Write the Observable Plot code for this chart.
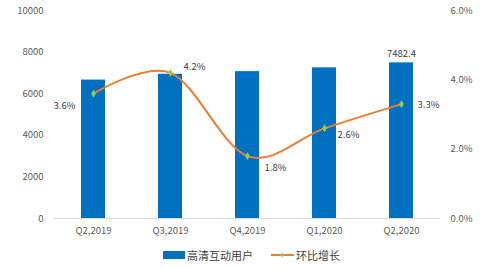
<!DOCTYPE html>
<html>
<head>
<meta charset="utf-8">
<script src="https://cdn.jsdelivr.net/npm/d3@7"></script>
<script src="https://cdn.jsdelivr.net/npm/@observablehq/plot@0.6"></script>
<style>
  html, body { margin: 0; padding: 0; background: #fff; }
  body { width: 499px; height: 268px; overflow: hidden; font-family: "Noto Sans CJK SC", "Noto Sans", sans-serif; }
  #legend { display: flex; align-items: center; height: 26px; padding-left: 163px; font-size: 11px; color: #404040; }
  .sw-bar { display: inline-block; width: 22px; height: 8px; background: #0070C0; margin-right: 2px; }
  .sw-line { display: inline-block; width: 23px; height: 2px; background: #ED7D31; margin-right: 2px; margin-left: 18px; position: relative; }
  .sw-line::after { content: ""; position: absolute; left: 9px; top: -1.5px; width: 4px; height: 4px; background: #92D050; transform: rotate(45deg); opacity: 0.6; }
</style>
</head>
<body>
<div id="chart"></div>
<div id="legend"><span class="sw-bar"></span><span>高清互动用户</span><span class="sw-line"></span><span>环比增长</span></div>
<script>
const quarters = ["Q2,2019", "Q3,2019", "Q4,2019", "Q1,2020", "Q2,2020"];
const users = [6655, 6935, 7060, 7243, 7482.4];
const growth = [3.6, 4.2, 1.8, 2.6, 3.3];
const leftTicks = [0, 2000, 4000, 6000, 8000, 10000];
const rightTicks = [0, 2, 4, 6];
const seriesNames = ["高清互动用户", "环比增长"];

const pctMax = 6, yMax = 10000;
const toY = p => p / pctMax * yMax;
const data = quarters.map((q, i) => ({q, users: users[i], growth: growth[i], gy: toY(growth[i])}));

// label offsets (style only)
const lblOff = [[-29, 12], [24, -6], [28, 12], [24, 7], [27, 1]];

const font = "Noto Sans CJK SC, Noto Sans, sans-serif";
const chart = Plot.plot({
  width: 499,
  height: 242,
  marginLeft: 53,
  marginRight: 59,
  marginTop: 10,
  marginBottom: 24,
  style: {fontFamily: font, fontSize: "9.5px", color: "#595959", background: "#fff"},
  x: {domain: quarters, paddingInner: 0.69, paddingOuter: 0.345, label: null},
  y: {domain: [0, yMax], label: null},
  marks: [
    Plot.axisY({ticks: leftTicks, tickSize: 0, tickPadding: 10, tickFormat: d => String(d), label: null, fontSize: 9.5}),
    Plot.axisY({anchor: "right", ticks: rightTicks.map(toY), tickSize: 0, tickPadding: 10, textAnchor: "start",
      tickFormat: d => (d / yMax * pctMax).toFixed(1) + "%", label: null, fontSize: 9.5}),
    Plot.axisX({tickSize: 0, tickPadding: 9, label: null, fontSize: 9.5}),
    Plot.barY(data, {x: "q", y: "users", fill: "#0070C0"}),
    Plot.ruleY([0], {stroke: "#d9d9d9", strokeWidth: 1}),
    Plot.text(data.filter((d, i) => i === data.length - 1), {x: "q", y: "users", text: d => String(d.users), dy: -9, fill: "#404040", fontSize: 9.5}),
    Plot.line(data, {x: "q", y: "gy", curve: "cardinal", tension: 0, stroke: "#ED7D31", strokeWidth: 2}),
    Plot.dot(data, {x: "q", y: "gy", symbol: "diamond", r: 2.2, fill: "#92D050", stroke: "#92D050", strokeWidth: 0.5}),
    ...data.map((d, i) => Plot.text([d], {x: "q", y: "gy", text: d => d.growth.toFixed(1) + "%", dx: lblOff[i][0], dy: lblOff[i][1], fill: "#404040", fontSize: 9.5}))
  ]
});
document.getElementById("chart").appendChild(chart);
</script>
</body>
</html>
